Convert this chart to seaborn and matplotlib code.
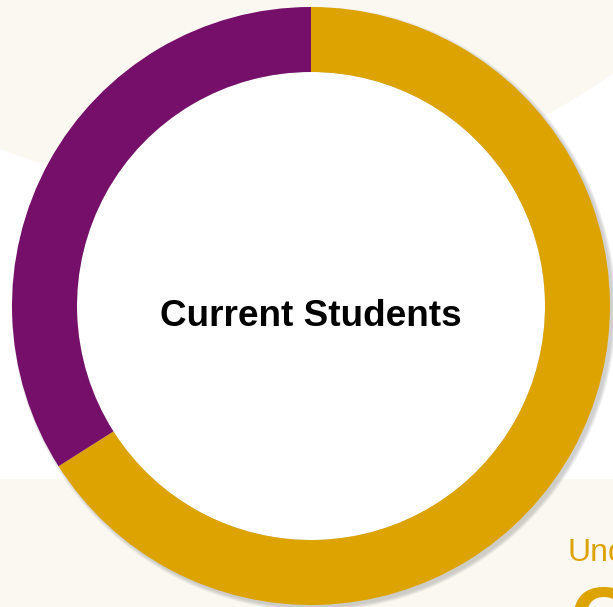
import matplotlib
matplotlib.use("Agg")
import matplotlib.pyplot as plt
from matplotlib.patches import Circle, Rectangle
import seaborn as sns

# data
categories = ["Undergraduate", "Graduate"]
shares = [66, 34]
center_label = "Current Students"
side_label = "Undergraduate"
side_value = "C"

GOLD = "#DDA300"
PURPLE = "#760F6A"
CREAM = "#FBF8F1"

sns.set_theme(style="white")
plt.rcParams["font.family"] = ["Liberation Sans", "DejaVu Sans"]

W, H = 613, 607
fig = plt.figure(figsize=(W / 100, H / 100), dpi=100, facecolor="white")
ax = fig.add_axes([0, 0, 1, 1])
ax.set_facecolor("white")

# page background: cream sweep at the top, cream band at the bottom
ax.add_patch(Circle((236, H + 462), 655, color=CREAM, lw=0, zorder=0))
ax.add_patch(Rectangle((0, 0), W, H - 479, color=CREAM, lw=0, zorder=0))

cx, cy = 311, H - 306
R, ring = 299, 65

# soft drop shadow behind the ring
for i in range(5):
    ax.pie([1], colors=["#7a7a7a"], radius=R + i * 0.8, center=(cx + 3, cy - 3),
           wedgeprops=dict(linewidth=0, alpha=0.08), startangle=90)
ax.add_patch(Circle((cx, cy), R - ring, color="white", lw=0, zorder=1))

wedges, _ = ax.pie(shares, colors=[GOLD, PURPLE], startangle=90, counterclock=False,
                   radius=R, center=(cx, cy), wedgeprops=dict(width=ring, linewidth=0))
for w in wedges:
    w.set_zorder(2)

ax.text(cx, H - 316, center_label, ha="center", va="center", fontsize=26.6,
        fontweight="bold", color="black", zorder=3)
ax.text(567, H - 561, side_label, ha="left", va="baseline", fontsize=23,
        color=GOLD, zorder=3)
ax.text(569, H - 584, side_value, ha="left", va="top", fontsize=64,
        color=GOLD, fontweight="bold", zorder=3)

ax.set_xlim(0, W)
ax.set_ylim(0, H)
ax.set_aspect("auto")
ax.axis("off")

fig.savefig("out.png", dpi=100, facecolor="white")
